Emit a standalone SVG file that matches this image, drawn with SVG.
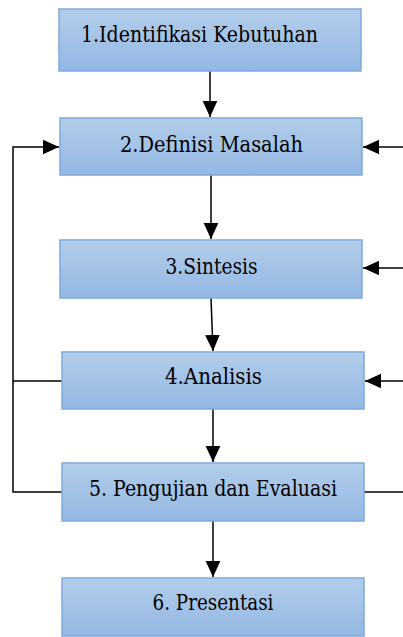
<svg xmlns="http://www.w3.org/2000/svg" width="403" height="637" viewBox="0 0 403 637">
<style>
.box{fill:url(#g);stroke:#7eaadd;stroke-width:1.5}
.t{font-family:'DejaVu Serif Condensed','DejaVu Serif',serif;font-size:22px;fill:#000;text-anchor:middle}
.c{stroke:#000;stroke-width:1.5;fill:none}
</style>
<defs>
<linearGradient id="g" x1="0" y1="0" x2="0" y2="1">
<stop offset="0" stop-color="#b3cdeb"/>
<stop offset="1" stop-color="#93b8e3"/>
</linearGradient>
<marker id="b" viewBox="0 0 10 10" refX="10" refY="5" markerWidth="16" markerHeight="16" markerUnits="userSpaceOnUse" orient="auto">
<path d="M0,0.4L10,5L0,9.6z" fill="#000"/>
</marker>
</defs>
<g id="connectors">
<line class="c" x1="210" y1="71" x2="210" y2="117" marker-end="url(#b)"/>
<line class="c" x1="211" y1="175" x2="211" y2="239" marker-end="url(#b)"/>
<line class="c" x1="211" y1="298" x2="213" y2="351" marker-end="url(#b)"/>
<line class="c" x1="213" y1="409" x2="213" y2="462" marker-end="url(#b)"/>
<line class="c" x1="213" y1="521" x2="213" y2="577" marker-end="url(#b)"/>
<polyline class="c" points="62,492 13,492 13,147 59,147" marker-end="url(#b)"/>
<line class="c" x1="13" y1="381" x2="62" y2="381"/>
<line class="c" x1="403" y1="147" x2="363" y2="147" marker-end="url(#b)"/>
<line class="c" x1="403" y1="268" x2="363" y2="268" marker-end="url(#b)"/>
<line class="c" x1="403" y1="381" x2="365" y2="381" marker-end="url(#b)"/>
<line class="c" x1="364" y1="492" x2="403" y2="492"/>
</g>
<g id="n1"><rect class="box" x="59" y="9" width="302" height="62"/><text class="t" x="199.5" y="42" textLength="237" lengthAdjust="spacingAndGlyphs">1.Identifikasi Kebutuhan</text></g>
<g id="n2"><rect class="box" x="60" y="118" width="302" height="57"/><text class="t" x="211.5" y="152" textLength="183" lengthAdjust="spacingAndGlyphs">2.Definisi Masalah</text></g>
<g id="n3"><rect class="box" x="60" y="240" width="302" height="58"/><text class="t" x="211.5" y="274" textLength="92" lengthAdjust="spacingAndGlyphs">3.Sintesis</text></g>
<g id="n4"><rect class="box" x="62" y="352" width="302" height="57"/><text class="t" x="213.5" y="384" textLength="97" lengthAdjust="spacingAndGlyphs">4.Analisis</text></g>
<g id="n5"><rect class="box" x="62" y="463" width="302" height="58"/><text class="t" x="213" y="496" textLength="248" lengthAdjust="spacingAndGlyphs">5. Pengujian dan Evaluasi</text></g>
<g id="n6"><rect class="box" x="62" y="578" width="302" height="58"/><text class="t" x="213" y="610" textLength="121" lengthAdjust="spacingAndGlyphs">6. Presentasi</text></g>
</svg>
